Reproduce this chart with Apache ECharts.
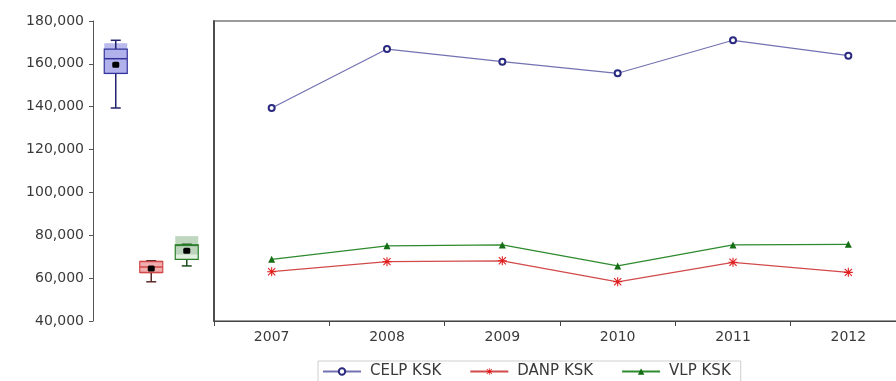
<!DOCTYPE html>
<html>
<head>
<meta charset="utf-8">
<script src="https://cdn.jsdelivr.net/npm/echarts@6/dist/echarts.min.js"></script>
<style>
  html, body { margin: 0; padding: 0; background: #fff; overflow: hidden; }
  /* the plot frame runs a little past the right edge of the window */
  #chart { width: 906px; height: 381px; }
</style>
</head>
<body>
<div id="chart"></div>
<script>
// Annual values per series
const years = ['2007', '2008', '2009', '2010', '2011', '2012'];
const celp = [139400, 166900, 161000, 155600, 171000, 163800];
const danp = [63000, 67700, 68100, 58300, 67400, 62700];
const vlp = [68800, 75100, 75500, 65700, 75500, 75800];
const seriesNames = ['CELP KSK', 'DANP KSK', 'VLP KSK'];
const yTicks = [40000, 60000, 80000, 100000, 120000, 140000, 160000, 180000];

const yMin = yTicks[0];
const yMax = yTicks[yTicks.length - 1];
const yStep = yTicks[1] - yTicks[0];

// Summary statistics for the box plots (Tukey hinges, median CI)
function median(a) {
  const s = a.slice().sort((x, y) => x - y);
  const n = s.length, m = Math.floor(n / 2);
  return n % 2 ? s[m] : (s[m - 1] + s[m]) / 2;
}
function summary(vals, i) {
  const s = vals.slice().sort((x, y) => x - y);
  const n = s.length;
  const half = Math.ceil(n / 2);
  const q1 = median(s.slice(0, half));
  const q3 = median(s.slice(n - half));
  const med = median(s);
  const mean = s.reduce((a, b) => a + b, 0) / n;
  const ci = 1.57 * (q3 - q1) / Math.sqrt(n);
  return [i, s[0], q1, med, q3, s[n - 1], mean, med - ci, med + ci];
}
const boxData = [summary(celp, 0), summary(danp, 1), summary(vlp, 2)];

const boxStyles = [
  { line: '#34349c', whisker: '#22226e', fill: '#c4c4f2', ci: '#aeaeea' },
  { line: '#d04848', whisker: '#5a2a2a', fill: '#f6c4c4', ci: '#eeaaaa' },
  { line: '#2a7f2a', whisker: '#1e4e1e', fill: '#e2f0e2', ci: '#b4cfb4' }
];

const font = 'DejaVu Sans, Verdana, sans-serif';
const labelColor = '#3a3a3a';

function renderBox(params, api) {
  const i = api.value(0);
  const st = boxStyles[i];
  const cx = api.coord([i, 0])[0];
  const y = k => api.coord([i, api.value(k)])[1];
  const hw = 11.5, cap = 5;
  const yMinV = y(1), yQ1 = y(2), yMed = y(3), yQ3 = y(4), yMaxV = y(5), yMean = y(6), yCiL = y(7), yCiH = y(8);
  const lw = { stroke: st.line, lineWidth: 1.5 };
  const ww = { stroke: st.whisker, lineWidth: 1.5 };
  return {
    type: 'group',
    children: [
      { type: 'rect', shape: { x: cx - hw, y: yQ3, width: hw * 2, height: yQ1 - yQ3 }, style: { fill: st.fill } },
      { type: 'rect', shape: { x: cx - hw, y: yCiH, width: hw * 2, height: yCiL - yCiH }, style: { fill: st.ci, opacity: 0.85 } },
      { type: 'line', shape: { x1: cx, y1: yQ3, x2: cx, y2: yMaxV }, style: ww },
      { type: 'line', shape: { x1: cx, y1: yQ1, x2: cx, y2: yMinV }, style: ww },
      { type: 'line', shape: { x1: cx - cap, y1: yMaxV, x2: cx + cap, y2: yMaxV }, style: ww },
      { type: 'line', shape: { x1: cx - cap, y1: yMinV, x2: cx + cap, y2: yMinV }, style: ww },
      { type: 'rect', shape: { x: cx - hw, y: yQ3, width: hw * 2, height: yQ1 - yQ3 }, style: { fill: null, stroke: st.line, lineWidth: 1.2 } },
      { type: 'line', shape: { x1: cx - hw, y1: yMed, x2: cx + hw, y2: yMed }, style: lw },
      { type: 'rect', shape: { x: cx - 3.5, y: yMean - 3, width: 7, height: 6, r: 1.5 }, style: { fill: '#000' } }
    ]
  };
}

const asterisk = 'path://M4.4,0 h1.2 v10 h-1.2 z M0,4.4 h10 v1.2 h-10 z M0.6,1.45 L1.45,0.6 L9.4,8.55 L8.55,9.4 Z M8.55,0.6 L9.4,1.45 L1.45,9.4 L0.6,8.55 Z';

const chart = echarts.init(document.getElementById('chart'));
chart.setOption({
  animation: false,
  backgroundColor: '#fff',
  textStyle: { fontFamily: font },
  legend: {
    bottom: -2,
    left: 318,
    data: seriesNames,
    itemWidth: 38,
    itemHeight: 8,
    itemGap: 28,
    padding: [3, 10, 4, 4],
    borderColor: '#cfcfcf',
    borderWidth: 1,
    textStyle: { fontFamily: font, fontSize: 15, color: labelColor, padding: [0, 0, 0, 4] }
  },
  grid: [
    { left: 98, width: 106.5, top: 21, bottom: 60 },
    { left: 214, right: 0, top: 21, bottom: 60, show: true, borderColor: '#9a9a9a', borderWidth: 2 }
  ],
  xAxis: [
    { gridIndex: 0, type: 'category', data: seriesNames, boundaryGap: true, show: false },
    {
      gridIndex: 1, type: 'category', data: years, boundaryGap: true,
      axisLine: { lineStyle: { color: '#444', width: 1 } },
      axisTick: { show: true, length: 5, lineStyle: { color: '#444' } },
      axisLabel: { color: labelColor, fontSize: 14, fontFamily: font, margin: 9 }
    }
  ],
  yAxis: [
    {
      gridIndex: 0, type: 'value', min: yMin, max: yMax, interval: yStep, offset: 5,
      axisLine: { show: true, lineStyle: { color: '#555', width: 1 } },
      axisTick: { show: true, length: 4, lineStyle: { color: '#555' } },
      splitLine: { show: false },
      axisLabel: {
        color: labelColor, fontSize: 14, fontFamily: font, margin: 9,
        formatter: v => v.toLocaleString('en-US')
      }
    },
    {
      gridIndex: 1, type: 'value', min: yMin, max: yMax, interval: yStep,
      axisLine: { show: true, lineStyle: { color: '#333', width: 1.5 } },
      axisTick: { show: false }, axisLabel: { show: false }, splitLine: { show: false }
    }
  ],
  series: [
    {
      type: 'custom', xAxisIndex: 0, yAxisIndex: 0,
      renderItem: renderBox,
      data: boxData,
      encode: { x: 0, y: [1, 5] },
      silent: true
    },
    {
      name: seriesNames[0], type: 'line', xAxisIndex: 1, yAxisIndex: 1, data: celp,
      symbol: 'emptyCircle', symbolSize: 6,
      lineStyle: { color: '#7272b2', width: 1.2 },
      itemStyle: { color: '#2a2a80', borderColor: '#2a2a80', borderWidth: 1 }
    },
    {
      name: seriesNames[1], type: 'line', xAxisIndex: 1, yAxisIndex: 1, data: danp,
      symbol: asterisk, symbolSize: 9,
      lineStyle: { color: '#d24a4a', width: 1.2 },
      itemStyle: { color: '#e01e1e' }
    },
    {
      name: seriesNames[2], type: 'line', xAxisIndex: 1, yAxisIndex: 1, data: vlp,
      symbol: 'triangle', symbolSize: 7,
      lineStyle: { color: '#2e8a2e', width: 1.2 },
      itemStyle: { color: '#146e14' }
    }
  ]
});
</script>
</body>
</html>
